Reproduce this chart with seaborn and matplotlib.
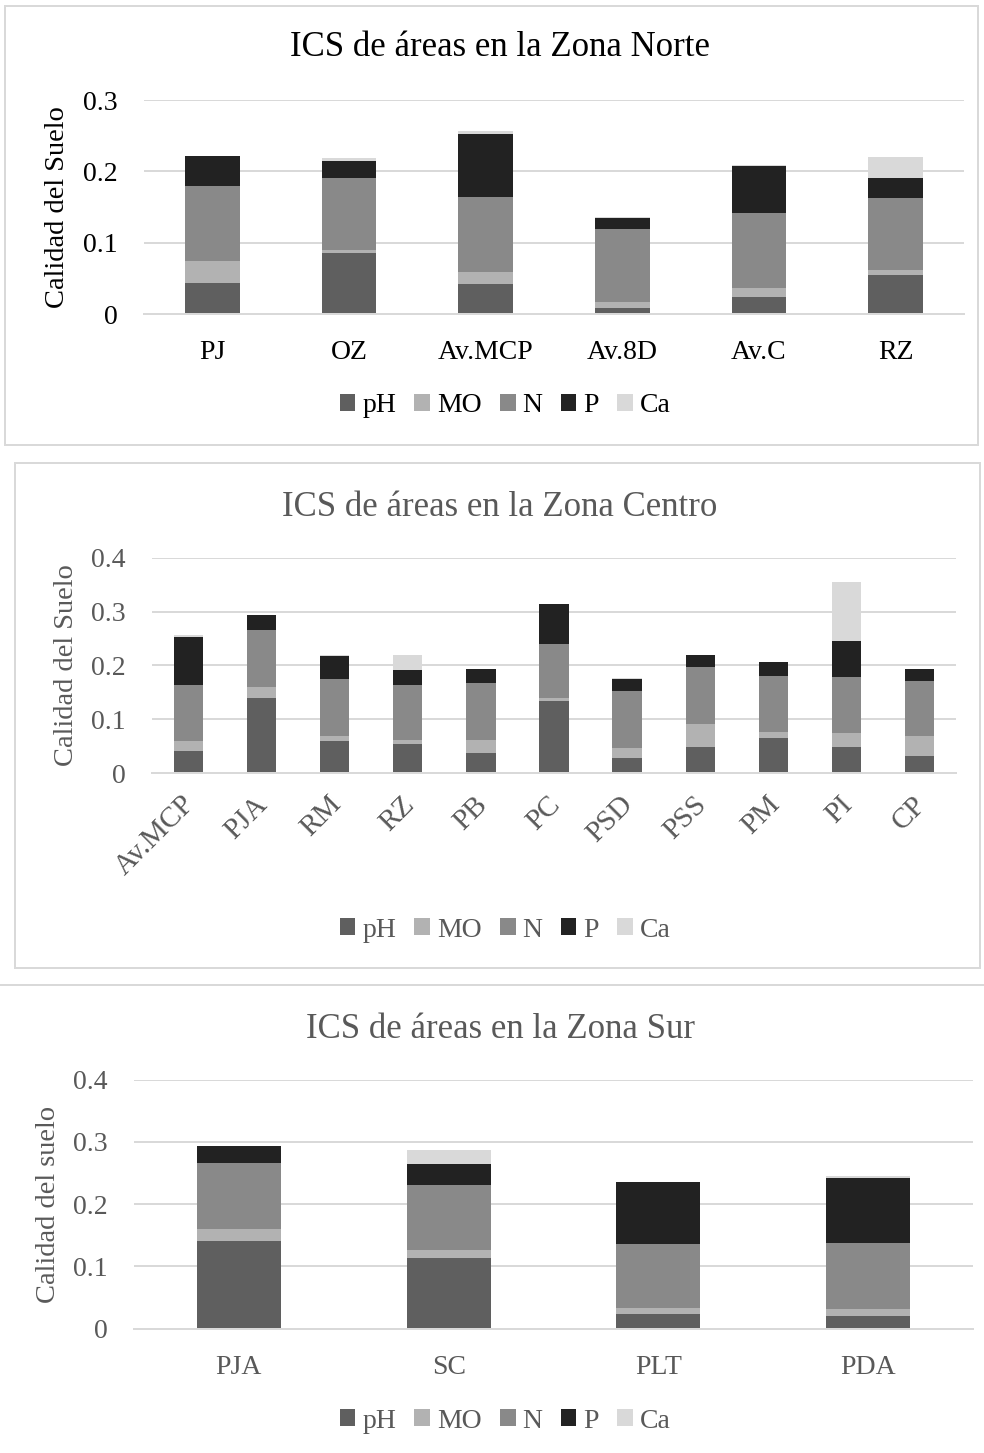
import numpy as np
import matplotlib
matplotlib.use("Agg")
import matplotlib.pyplot as plt
from matplotlib.patches import Rectangle, Patch
from matplotlib.transforms import ScaledTranslation
import seaborn as sns

# --- data -------------------------------------------------------------
series = ["pH", "MO", "N", "P", "Ca"]

norte_areas = ["PJ", "OZ", "Av.MCP", "Av.8D", "Av.C", "RZ"]
norte_pH = [0.044, 0.085, 0.042, 0.009, 0.024, 0.054]
norte_MO = [0.031, 0.005, 0.017, 0.008, 0.013, 0.007]
norte_N = [0.105, 0.100, 0.105, 0.102, 0.104, 0.102]
norte_P = [0.041, 0.025, 0.088, 0.016, 0.067, 0.028]
norte_Ca = [0.001, 0.003, 0.004, 0.001, 0.001, 0.029]

centro_areas = ["Av.MCP", "PJA", "RM", "RZ", "PB", "PC", "PSD", "PSS", "PM", "PI", "CP"]
centro_pH = [0.042, 0.140, 0.059, 0.054, 0.037, 0.134, 0.028, 0.048, 0.065, 0.049, 0.032]
centro_MO = [0.017, 0.020, 0.011, 0.007, 0.025, 0.005, 0.019, 0.044, 0.011, 0.025, 0.037]
centro_N = [0.105, 0.106, 0.105, 0.102, 0.105, 0.101, 0.105, 0.106, 0.104, 0.105, 0.102]
centro_P = [0.088, 0.028, 0.042, 0.028, 0.026, 0.075, 0.023, 0.021, 0.027, 0.067, 0.022]
centro_Ca = [0.004, 0.000, 0.002, 0.029, 0.000, 0.000, 0.002, 0.001, 0.000, 0.109, 0.000]

sur_areas = ["PJA", "SC", "PLT", "PDA"]
sur_pH = [0.140, 0.113, 0.023, 0.021]
sur_MO = [0.020, 0.013, 0.010, 0.011]
sur_N = [0.106, 0.104, 0.103, 0.105]
sur_P = [0.028, 0.034, 0.099, 0.105]
sur_Ca = [0.000, 0.023, 0.000, 0.003]

# --- style ------------------------------------------------------------
palette = {"pH": "#5f5f5f", "MO": "#b2b2b2", "N": "#898989", "P": "#222222", "Ca": "#d9d9d9"}
GRID = "#d9d9d9"

sns.set_theme(style="white")
plt.rcParams["font.family"] = ["Liberation Serif", "DejaVu Serif"]

W, H = 984, 1453
DPI = 100
fig = plt.figure(figsize=(W / DPI, H / DPI), dpi=DPI)
fig.patch.set_facecolor("white")
PT = 72 / DPI  # points per pixel


def fx(px):
    return px / W


def fy(py):
    return 1 - py / H


def frame(x0, y0, x1, y1):
    fig.patches.append(Rectangle((fx(x0), fy(y1)), fx(x1) - fx(x0), fy(y0) - fy(y1),
                                 transform=fig.transFigure, fill=False,
                                 edgecolor=GRID, linewidth=2 * PT, zorder=0))


def panel(box, areas, layers, ymax, title, title_y, ylabel, ylabel_x, legend_y,
          text_color, rotate=False):
    left, top, right, bottom = box
    ax = fig.add_axes([fx(left), fy(bottom), fx(right) - fx(left), fy(top) - fy(bottom)])
    ax.set_axisbelow(True)

    # stacked bars: cumulative totals drawn from the top segment down
    cum = np.cumsum(np.array([layers[s] for s in series]), axis=0)
    for i in range(len(series) - 1, -1, -1):
        sns.barplot(x=areas, y=cum[i], order=areas, color=palette[series[i]],
                    saturation=1, width=0.4, linewidth=0, errorbar=None, ax=ax)

    n = len(areas)
    ax.set_xlim(-0.5, n - 0.5)
    ax.set_ylim(0, ymax)
    yt = np.round(np.arange(0, ymax + 1e-9, 0.1), 1)
    ax.set_yticks(yt)
    ax.set_yticklabels([f"{v:g}" for v in yt])
    ax.yaxis.grid(True, color=GRID, linewidth=2 * PT)
    ax.xaxis.grid(False)
    for s in ["top", "right", "left"]:
        ax.spines[s].set_visible(False)
    ax.spines["bottom"].set_color(GRID)
    ax.spines["bottom"].set_linewidth(2 * PT)

    ax.set_xticks(np.arange(n + 1) - 0.5, minor=True)
    ax.tick_params(axis="x", which="minor", length=9 * PT, width=2 * PT,
                   color=GRID, direction="out")
    ax.tick_params(axis="x", which="major", length=0, labelsize=(21 if rotate else 20),
                   labelcolor=text_color, pad=(13 if rotate else 19))
    ax.tick_params(axis="y", length=0, labelsize=20, labelcolor=text_color, pad=19)
    if rotate:
        shift = ScaledTranslation(-7 / DPI, 0, fig.dpi_scale_trans)
        for lab in ax.get_xticklabels():
            lab.set_rotation(45)
            lab.set_ha("right")
            lab.set_va("top")
            lab.set_rotation_mode("anchor")
            lab.set_transform(lab.get_transform() + shift)
    ax.set_xlabel("")
    ax.set_ylabel(ylabel, fontsize=20.5, color=text_color, va="center")
    ax.yaxis.set_label_coords((ylabel_x - left) / (right - left), 0.5)

    fig.text(fx(500), fy(title_y), title, ha="center", va="center",
             fontsize=25, color=text_color)

    handles = [Patch(facecolor=palette[s], edgecolor="none", label=s) for s in series]
    fig.legend(handles=handles, loc="center", bbox_to_anchor=(fx(505), fy(legend_y)),
               ncol=5, frameon=False, fontsize=20, handlelength=0.57, handleheight=0.57,
               handletextpad=0.25, columnspacing=0.65, labelcolor=text_color,
               borderaxespad=0, borderpad=0)
    return ax


# panel frames
frame(5, 6, 978, 445)
frame(15, 463, 980, 968)
frame(-10, 985, 994, 1470)

panel((144, 100, 964, 314), norte_areas,
      dict(pH=norte_pH, MO=norte_MO, N=norte_N, P=norte_P, Ca=norte_Ca),
      0.3, "ICS de áreas en la Zona Norte", 48, "Calidad del Suelo", 58, 406, "#000000")

panel((152, 557.7, 956, 773.3), centro_areas,
      dict(pH=centro_pH, MO=centro_MO, N=centro_N, P=centro_P, Ca=centro_Ca),
      0.4, "ICS de áreas en la Zona Centro", 507, "Calidad del Suelo", 67, 930, "#595959",
      rotate=True)

panel((134, 1079.5, 973, 1328.7), sur_areas,
      dict(pH=sur_pH, MO=sur_MO, N=sur_N, P=sur_P, Ca=sur_Ca),
      0.4, "ICS de áreas en la Zona Sur", 1030, "Calidad del suelo", 49, 1421, "#595959")

fig.savefig("out.png", dpi=DPI, facecolor="white")
